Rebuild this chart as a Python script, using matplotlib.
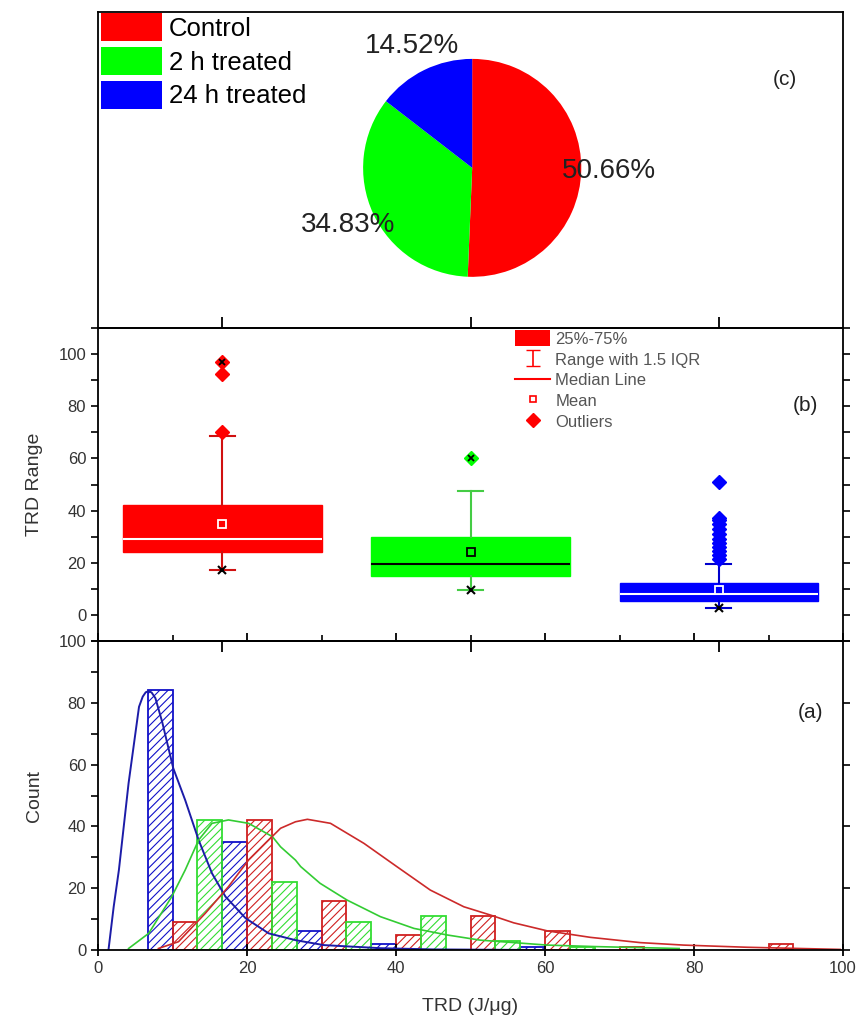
import numpy as np
import matplotlib
matplotlib.use('Agg')
import matplotlib.pyplot as plt
from matplotlib.patches import Patch
from matplotlib.lines import Line2D
from matplotlib.ticker import MultipleLocator

plt.rcParams['font.family'] = ['Liberation Sans', 'DejaVu Sans']
plt.rcParams['hatch.linewidth'] = 0.8

groups = ['Control', '2 h treated', '24 h treated']
colors = ['#ff0000', '#00ff00', '#0000ff']

# (c) share of each group
pie_share = [50.66, 34.83, 14.52]

# (b) box statistics
box_q1 = [24.0, 14.8, 5.5]
box_q3 = [42.3, 29.8, 12.1]
box_med = [29.0, 19.7, 8.0]
box_mean = [34.7, 24.0, 9.6]
box_lo = [17.4, 9.7, 2.6]
box_hi = [68.5, 47.5, 19.6]
box_fliers = [[70.3, 92.3, 97.0],
              [60.2],
              [21.5, 23.0, 24.5, 26.0, 27.5, 29.0, 31.0, 33.0, 35.0, 36.5, 37.3, 51.0]]
box_min = [17.4, 9.7, 2.6]
box_max = [97.0, 60.2, np.nan]

# (a) histogram counts (left edge of each bar)
ctrl_left = [10, 20, 30, 40, 50, 60, 70, 90]
ctrl_count = [9, 42, 16, 5, 11, 6, 1, 2]
h2_left = [13.33, 23.33, 33.33, 43.33, 53.33, 63.33]
h2_count = [42, 22, 9, 11, 3, 1]
h24_left = [6.67, 16.67, 26.67, 36.67, 56.67]
h24_count = [84, 35, 6, 2, 1]

# fitted curves, points
ctrl_fit_x = [8.1, 10.8, 14.4, 17.5, 20.2, 22.9, 24.5, 26.5, 28.1, 31.2, 35.7, 40.1,
              44.6, 49.1, 52.7, 55.8, 60.3, 66.1, 72.8, 78.6, 87.1, 99.6]
ctrl_fit_y = [0.5, 2.7, 11.9, 20.5, 29.1, 35.6, 39.4, 41.5, 42.3, 41.0, 34.5, 27.0,
              19.4, 14.0, 11.3, 8.8, 6.2, 4.1, 2.4, 1.6, 0.9, 0.2]
h2_fit_x = [4.1, 6.8, 9.9, 11.7, 13.5, 15.3, 17.5, 20.2, 23.4, 24.5, 26.5, 27.2, 29.8,
            33.4, 37.9, 42.4, 46.8, 51.3, 55.8, 60.3, 67.0, 78.0]
h2_fit_y = [0.5, 5.4, 17.3, 25.9, 35.6, 41.0, 42.1, 41.0, 36.7, 33.4, 29.1, 27.0, 21.6,
            16.2, 10.8, 7.0, 4.9, 3.2, 2.4, 1.6, 1.1, 0.5]
h24_fit_x = [1.4, 2.1, 2.8, 4.1, 5.5, 6.0, 6.4, 6.8, 7.2, 7.7, 8.6, 10.1, 11.7, 13.5,
             15.3, 17.1, 19.8, 22.9, 26.5, 30.3, 37.9, 45.0, 60.0]
h24_fit_y = [0.0, 14.0, 25.9, 54.0, 78.7, 82.0, 83.4, 83.8, 83.3, 81.5, 73.9, 58.8,
             48.5, 35.6, 24.8, 17.3, 10.3, 5.4, 3.2, 1.6, 0.6, 0.2, 0.0]

tick_col = '#333333'

fig = plt.figure(figsize=(8.63, 10.21), dpi=100)
ax_c = fig.add_axes([0.1136, 0.6787, 0.8633, 0.3095])
ax_b = fig.add_axes([0.1136, 0.3722, 0.8633, 0.3065])
ax_a = fig.add_axes([0.1136, 0.0695, 0.8633, 0.3027])
for ax in (ax_c, ax_b, ax_a):
    ax.set_facecolor('none')
    for s in ax.spines.values():
        s.set_linewidth(1.3)

# ---- (c) pie
wedges, texts, autotexts = ax_c.pie(pie_share, colors=colors, startangle=90,
                                    counterclock=False, autopct='%.2f%%',
                                    pctdistance=1.25,
                                    textprops=dict(fontsize=20, color='#222222'))
for t, v in zip(autotexts, pie_share):
    t.set_text(f'{v:.2f}%')
ax_c.set_aspect('auto')
ax_c.set_frame_on(True)
ax_c.set_xlim(-3.43, 3.40)
ax_c.set_ylim(-1.47, 1.43)
ax_c.set_xticks([])
ax_c.set_yticks([])
ax_c.legend(wedges, groups, loc='upper left', bbox_to_anchor=(0.002, 1), borderaxespad=0,
            borderpad=0.05, frameon=False, fontsize=18.5, handlelength=2.4,
            handleheight=1.3, handletextpad=0.25, labelspacing=0.22)
ax_c.text(0.922, 0.785, '(c)', transform=ax_c.transAxes, fontsize=15,
          ha='center', va='center', color='#222222')

# ---- (b) box plot
stats = []
for i in range(3):
    stats.append(dict(med=box_med[i], q1=box_q1[i], q3=box_q3[i], whislo=box_lo[i],
                      whishi=box_hi[i], mean=box_mean[i], fliers=box_fliers[i]))
pos = [1, 2, 3]
bp = ax_b.bxp(stats, positions=pos, widths=0.8, capwidths=0.1, patch_artist=True,
              showmeans=True, manage_ticks=False)
whisk_cols = ['#d01010', '#44cc44', '#0000cc']
med_cols = ['white', 'black', 'white']
mean_edge = ['white', 'black', 'white']
for i in range(3):
    bp['boxes'][i].set(facecolor=colors[i], edgecolor=colors[i], linewidth=1)
    for ln in bp['whiskers'][2 * i:2 * i + 2] + bp['caps'][2 * i:2 * i + 2]:
        ln.set(color=whisk_cols[i], linewidth=1.5)
    bp['medians'][i].set(color=med_cols[i], linewidth=1.5)
    bp['means'][i].set(marker='s', markersize=5.5, markerfacecolor=colors[i],
                       markeredgecolor=mean_edge[i], markeredgewidth=1.3)
    bp['fliers'][i].set(marker='D', markersize=7, markerfacecolor=colors[i],
                        markeredgecolor=colors[i])
ax_b.plot(pos, box_min, ls='none', marker='x', color='black', ms=6, mew=1.5)
ax_b.plot(pos, box_max, ls='none', marker='x', color='black', ms=5, mew=1.3)

eb = ax_b.errorbar([np.nan], [np.nan], yerr=[[1], [1]], fmt='none', ecolor='#ff0000',
                   capsize=5, elinewidth=1.2)
handles = [Patch(facecolor='#ff0000', edgecolor='none'),
           eb,
           Line2D([], [], color='#ff0000', lw=1.5),
           Line2D([], [], ls='none', marker='s', ms=4, mfc='white', mec='#ff0000', mew=1.2),
           Line2D([], [], ls='none', marker='D', ms=7, color='#ff0000')]
labels = ['25%-75%', 'Range with 1.5 IQR', 'Median Line', 'Mean', 'Outliers']
ax_b.legend(handles, labels, loc='upper left', bbox_to_anchor=(0.558, 0.995),
            borderaxespad=0, borderpad=0.05, frameon=False, fontsize=12,
            labelcolor='#555555', handlelength=2.15, handleheight=1.05,
            handletextpad=0.3, labelspacing=0.26)
ax_b.set_xlim(0.5, 3.5)
ax_b.set_ylim(-10, 110)
ax_b.set_xticks(pos)
ax_b.tick_params(axis='x', which='both', top=True, bottom=True, direction='out',
                 length=8, width=1.3, labelbottom=False)
ax_b.yaxis.set_major_locator(MultipleLocator(20))
ax_b.yaxis.set_minor_locator(MultipleLocator(10))
ax_b.tick_params(axis='y', which='both', left=True, right=True, direction='out',
                 length=5, width=1.2, labelsize=12, labelcolor=tick_col)
ax_b.set_ylabel('TRD Range', fontsize=14, color=tick_col)
ax_b.yaxis.set_label_coords(-0.074, 0.5)
ax_b.text(0.95, 0.754, '(b)', transform=ax_b.transAxes, fontsize=15,
          ha='center', va='center', color='#222222')

# ---- (a) histogram with fits
bw = 3.33
ax_a.bar(h24_left, h24_count, width=bw, align='edge', facecolor='none',
         edgecolor='#1010c8', hatch='////', linewidth=1.3)
ax_a.bar(ctrl_left, ctrl_count, width=bw, align='edge', facecolor='none',
         edgecolor='#d02020', hatch='////', linewidth=1.3)
ax_a.bar(h2_left, h2_count, width=bw, align='edge', facecolor='none',
         edgecolor='#33dd33', hatch='////', linewidth=1.3)
ax_a.plot(h24_fit_x, h24_fit_y, color='#1c1ca8', lw=1.4)
ax_a.plot(h2_fit_x, h2_fit_y, color='#33cc33', lw=1.2)
ax_a.plot(ctrl_fit_x, ctrl_fit_y, color='#cc2a2a', lw=1.2)

ax_a.set_xlim(0, 100)
ax_a.set_ylim(0, 100)
ax_a.xaxis.set_major_locator(MultipleLocator(20))
ax_a.tick_params(axis='x', which='major', bottom=True, top=False, direction='inout',
                 length=9, width=1.3, labelsize=12, labelcolor=tick_col)
ax_a.tick_params(axis='x', which='minor', bottom=False, top=False)
top = ax_a.secondary_xaxis('top')
top.xaxis.set_major_locator(MultipleLocator(20))
top.xaxis.set_minor_locator(MultipleLocator(10))
top.tick_params(axis='x', which='major', direction='out', length=6, width=1.3,
                labeltop=False)
top.tick_params(axis='x', which='minor', direction='out', length=4, width=1.2)
top.spines['top'].set_linewidth(1.3)
ax_a.yaxis.set_major_locator(MultipleLocator(20))
ax_a.yaxis.set_minor_locator(MultipleLocator(10))
ax_a.tick_params(axis='y', which='major', left=True, right=True, direction='out',
                 length=5, width=1.2, labelsize=12, labelcolor=tick_col)
ax_a.tick_params(axis='y', which='minor', left=True, right=False, direction='out',
                 length=5, width=1.2)
ax_a.set_ylabel('Count', fontsize=14, color=tick_col)
ax_a.yaxis.set_label_coords(-0.074, 0.5)
ax_a.set_xlabel('TRD (J/\u03bcg)', fontsize=14, color=tick_col)
ax_a.xaxis.set_label_coords(0.5, -0.155)
ax_a.text(0.956, 0.767, '(a)', transform=ax_a.transAxes, fontsize=15,
          ha='center', va='center', color='#222222')

fig.savefig('out.png', dpi=100)
